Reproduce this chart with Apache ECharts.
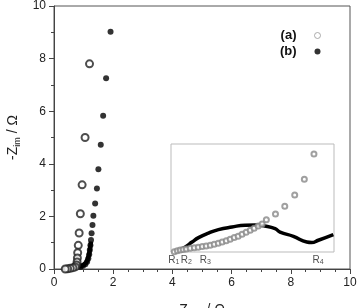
<!DOCTYPE html>
<html>
<head>
<meta charset="utf-8">
<script src="https://cdn.jsdelivr.net/npm/echarts@6/dist/echarts.min.js"></script>
<style>
  html, body { margin: 0; padding: 0; background: #fff; }
  #chart { width: 358px; height: 308px; }
</style>
</head>
<body>
<div id="chart"></div>
<script>
// main plot, Ω
const xTicks = [0, 2, 4, 6, 8, 10];
const yTicks = [0, 2, 4, 6, 8, 10];

// (a) open circles
const mainA = [
  [1.2, 7.8], [1.05, 5.0], [0.95, 3.2], [0.89, 2.1], [0.85, 1.37], [0.82, 0.9],
  [0.8, 0.62], [0.79, 0.42], [0.78, 0.27], [0.76, 0.15], [0.72, 0.08],
  [0.64, 0.05], [0.55, 0.03], [0.46, 0.01], [0.38, 0]
];
// (b) filled circles
const mainB = [
  [1.91, 9.02], [1.76, 7.25], [1.66, 5.83], [1.58, 4.72], [1.5, 3.79],
  [1.45, 3.06], [1.39, 2.49], [1.33, 2.02], [1.3, 1.67], [1.27, 1.36],
  [1.25, 1.1], [1.23, 0.9], [1.21, 0.72], [1.19, 0.55], [1.16, 0.4],
  [1.12, 0.28], [1.06, 0.18], [0.98, 0.12], [0.9, 0.09]
];
// (b) dense high-frequency points, drawn as a thick trace
const mainBLow = [
  [0.3, 0], [0.4, 0.03], [0.55, 0.06], [0.7, 0.08], [0.85, 0.1], [0.98, 0.14],
  [1.07, 0.22], [1.13, 0.35], [1.18, 0.55], [1.22, 0.8], [1.25, 1.05]
];

// inset (zoom of the high-frequency region)
const insetA = [
  [0.320, 0.002], [0.339, 0.007], [0.357, 0.012], [0.375, 0.015], [0.394, 0.018],
  [0.418, 0.023], [0.443, 0.026], [0.467, 0.029], [0.492, 0.033], [0.516, 0.037],
  [0.541, 0.041], [0.565, 0.047], [0.590, 0.054], [0.614, 0.061], [0.639, 0.069],
  [0.663, 0.078], [0.688, 0.088], [0.712, 0.097], [0.736, 0.108], [0.761, 0.121],
  [0.786, 0.133], [0.810, 0.145], [0.835, 0.159], [0.859, 0.172], [0.885, 0.198],
  [0.941, 0.233], [0.998, 0.280], [1.059, 0.349], [1.118, 0.445], [1.177, 0.600]
];
const insetB = [
  [0.332, 0.001], [0.347, 0.010], [0.388, 0.031], [0.429, 0.061], [0.469, 0.088],
  [0.530, 0.116], [0.591, 0.137], [0.674, 0.153], [0.755, 0.164], [0.816, 0.165],
  [0.877, 0.159], [0.939, 0.143], [0.969, 0.122], [1.051, 0.096], [1.133, 0.061],
  [1.163, 0.058], [1.204, 0.072], [1.296, 0.107]
];
const rLabels = [
  [0.317, 0, '1'], [0.394, 0, '2'], [0.51, 0, '3'], [1.202, 0, '4']
];

const font = 'Liberation Sans, Arial, sans-serif';
const chart = echarts.init(document.getElementById('chart'), null, { renderer: 'canvas' });

chart.setOption({
  animation: false,
  textStyle: { fontFamily: font },
  grid: [
    { left: 54, right: 8, top: 6, bottom: 39, show: true, borderColor: '#555', borderWidth: 1,
      containLabel: false, outerBoundsMode: 'none' },
    { left: 171, top: 144, width: 163, height: 108, show: true, borderColor: '#bbb', borderWidth: 1,
      containLabel: false, outerBoundsMode: 'none' }
  ],
  legend: {
    orient: 'vertical',
    right: 32,
    top: 24,
    align: 'right',
    itemWidth: 32,
    itemHeight: 6,
    itemGap: 3,
    textStyle: { fontFamily: font, fontSize: 13, fontWeight: 'bold', color: '#111' },
    data: [
      { name: '(a)', icon: 'circle', itemStyle: { color: '#fff', borderColor: '#999', borderWidth: 1 } },
      { name: '(b)', icon: 'circle', itemStyle: { color: '#000' } }
    ]
  },
  xAxis: [
    {
      gridIndex: 0, type: 'value', min: xTicks[0], max: xTicks[xTicks.length - 1], interval: 2,
      name: '{z|Z}{s|real}{z| / Ω}', nameLocation: 'middle', nameGap: 33,
      nameTextStyle: { rich: {
        z: { fontSize: 14, color: '#222', fontFamily: font },
        s: { fontSize: 9, color: '#222', fontFamily: font, verticalAlign: 'bottom', padding: [8, 0, 0, 0] }
      } },
      axisLine: { lineStyle: { color: '#444' } },
      axisTick: { length: 5, lineStyle: { color: '#444' } },
      minorTick: { show: true, splitNumber: 4, length: 3, lineStyle: { color: '#444' } },
      axisLabel: { fontSize: 12, color: '#222', margin: 8 },
      splitLine: { show: false }
    },
    {
      gridIndex: 1, type: 'value', min: 0.3, max: 1.3, show: false, splitLine: { show: false }
    }
  ],
  yAxis: [
    {
      gridIndex: 0, type: 'value', min: yTicks[0], max: yTicks[yTicks.length - 1], interval: 2,
      name: '{z|-Z}{s|im}{z| / Ω}', nameLocation: 'middle', nameGap: 31, nameRotate: 90,
      nameTextStyle: { rich: {
        z: { fontSize: 14, color: '#222', fontFamily: font },
        s: { fontSize: 9, color: '#222', fontFamily: font, verticalAlign: 'bottom', padding: [8, 0, 0, 0] }
      } },
      axisLine: { lineStyle: { color: '#444' } },
      axisTick: { length: 5, lineStyle: { color: '#444' } },
      minorTick: { show: true, splitNumber: 2, length: 3, lineStyle: { color: '#444' } },
      axisLabel: { fontSize: 12, color: '#222', margin: 8 },
      splitLine: { show: false }
    },
    {
      gridIndex: 1, type: 'value', min: 0, max: 0.661, show: false, splitLine: { show: false }
    }
  ],
  series: [
    {
      name: 'b-trace', type: 'line', xAxisIndex: 0, yAxisIndex: 0, data: mainBLow,
      smooth: true, symbol: 'none', lineStyle: { color: '#000', width: 4.5 }, z: 2
    },
    {
      name: '(b)', type: 'scatter', xAxisIndex: 0, yAxisIndex: 0, data: mainB,
      symbol: 'circle', symbolSize: 6, itemStyle: { color: '#000' }, z: 3
    },
    {
      name: '(a)', type: 'scatter', xAxisIndex: 0, yAxisIndex: 0, data: mainA,
      symbol: 'emptyCircle', symbolSize: 7, itemStyle: { color: '#222', borderWidth: 0.8 }, z: 4
    },
    {
      name: 'b-inset', type: 'line', xAxisIndex: 1, yAxisIndex: 1, data: insetB,
      smooth: true, symbol: 'none', lineStyle: { color: '#000', width: 3.5 }, z: 3
    },
    {
      name: 'a-inset', type: 'scatter', xAxisIndex: 1, yAxisIndex: 1, data: insetA,
      symbol: 'emptyCircle', symbolSize: 5, itemStyle: { color: '#888', borderWidth: 0.8 }, z: 4
    },
    {
      name: 'R', type: 'scatter', xAxisIndex: 1, yAxisIndex: 1, data: rLabels,
      symbolSize: 0, silent: true,
      label: {
        show: true, position: 'bottom', distance: 2,
        formatter: p => '{r|R}{s|' + p.data[2] + '}',
        rich: {
          r: { fontSize: 10, color: '#222', fontFamily: font },
          s: { fontSize: 7, color: '#222', fontFamily: font, verticalAlign: 'bottom', padding: [5, 0, 0, 0] }
        }
      }
    }
  ]
});
</script>
</body>
</html>
